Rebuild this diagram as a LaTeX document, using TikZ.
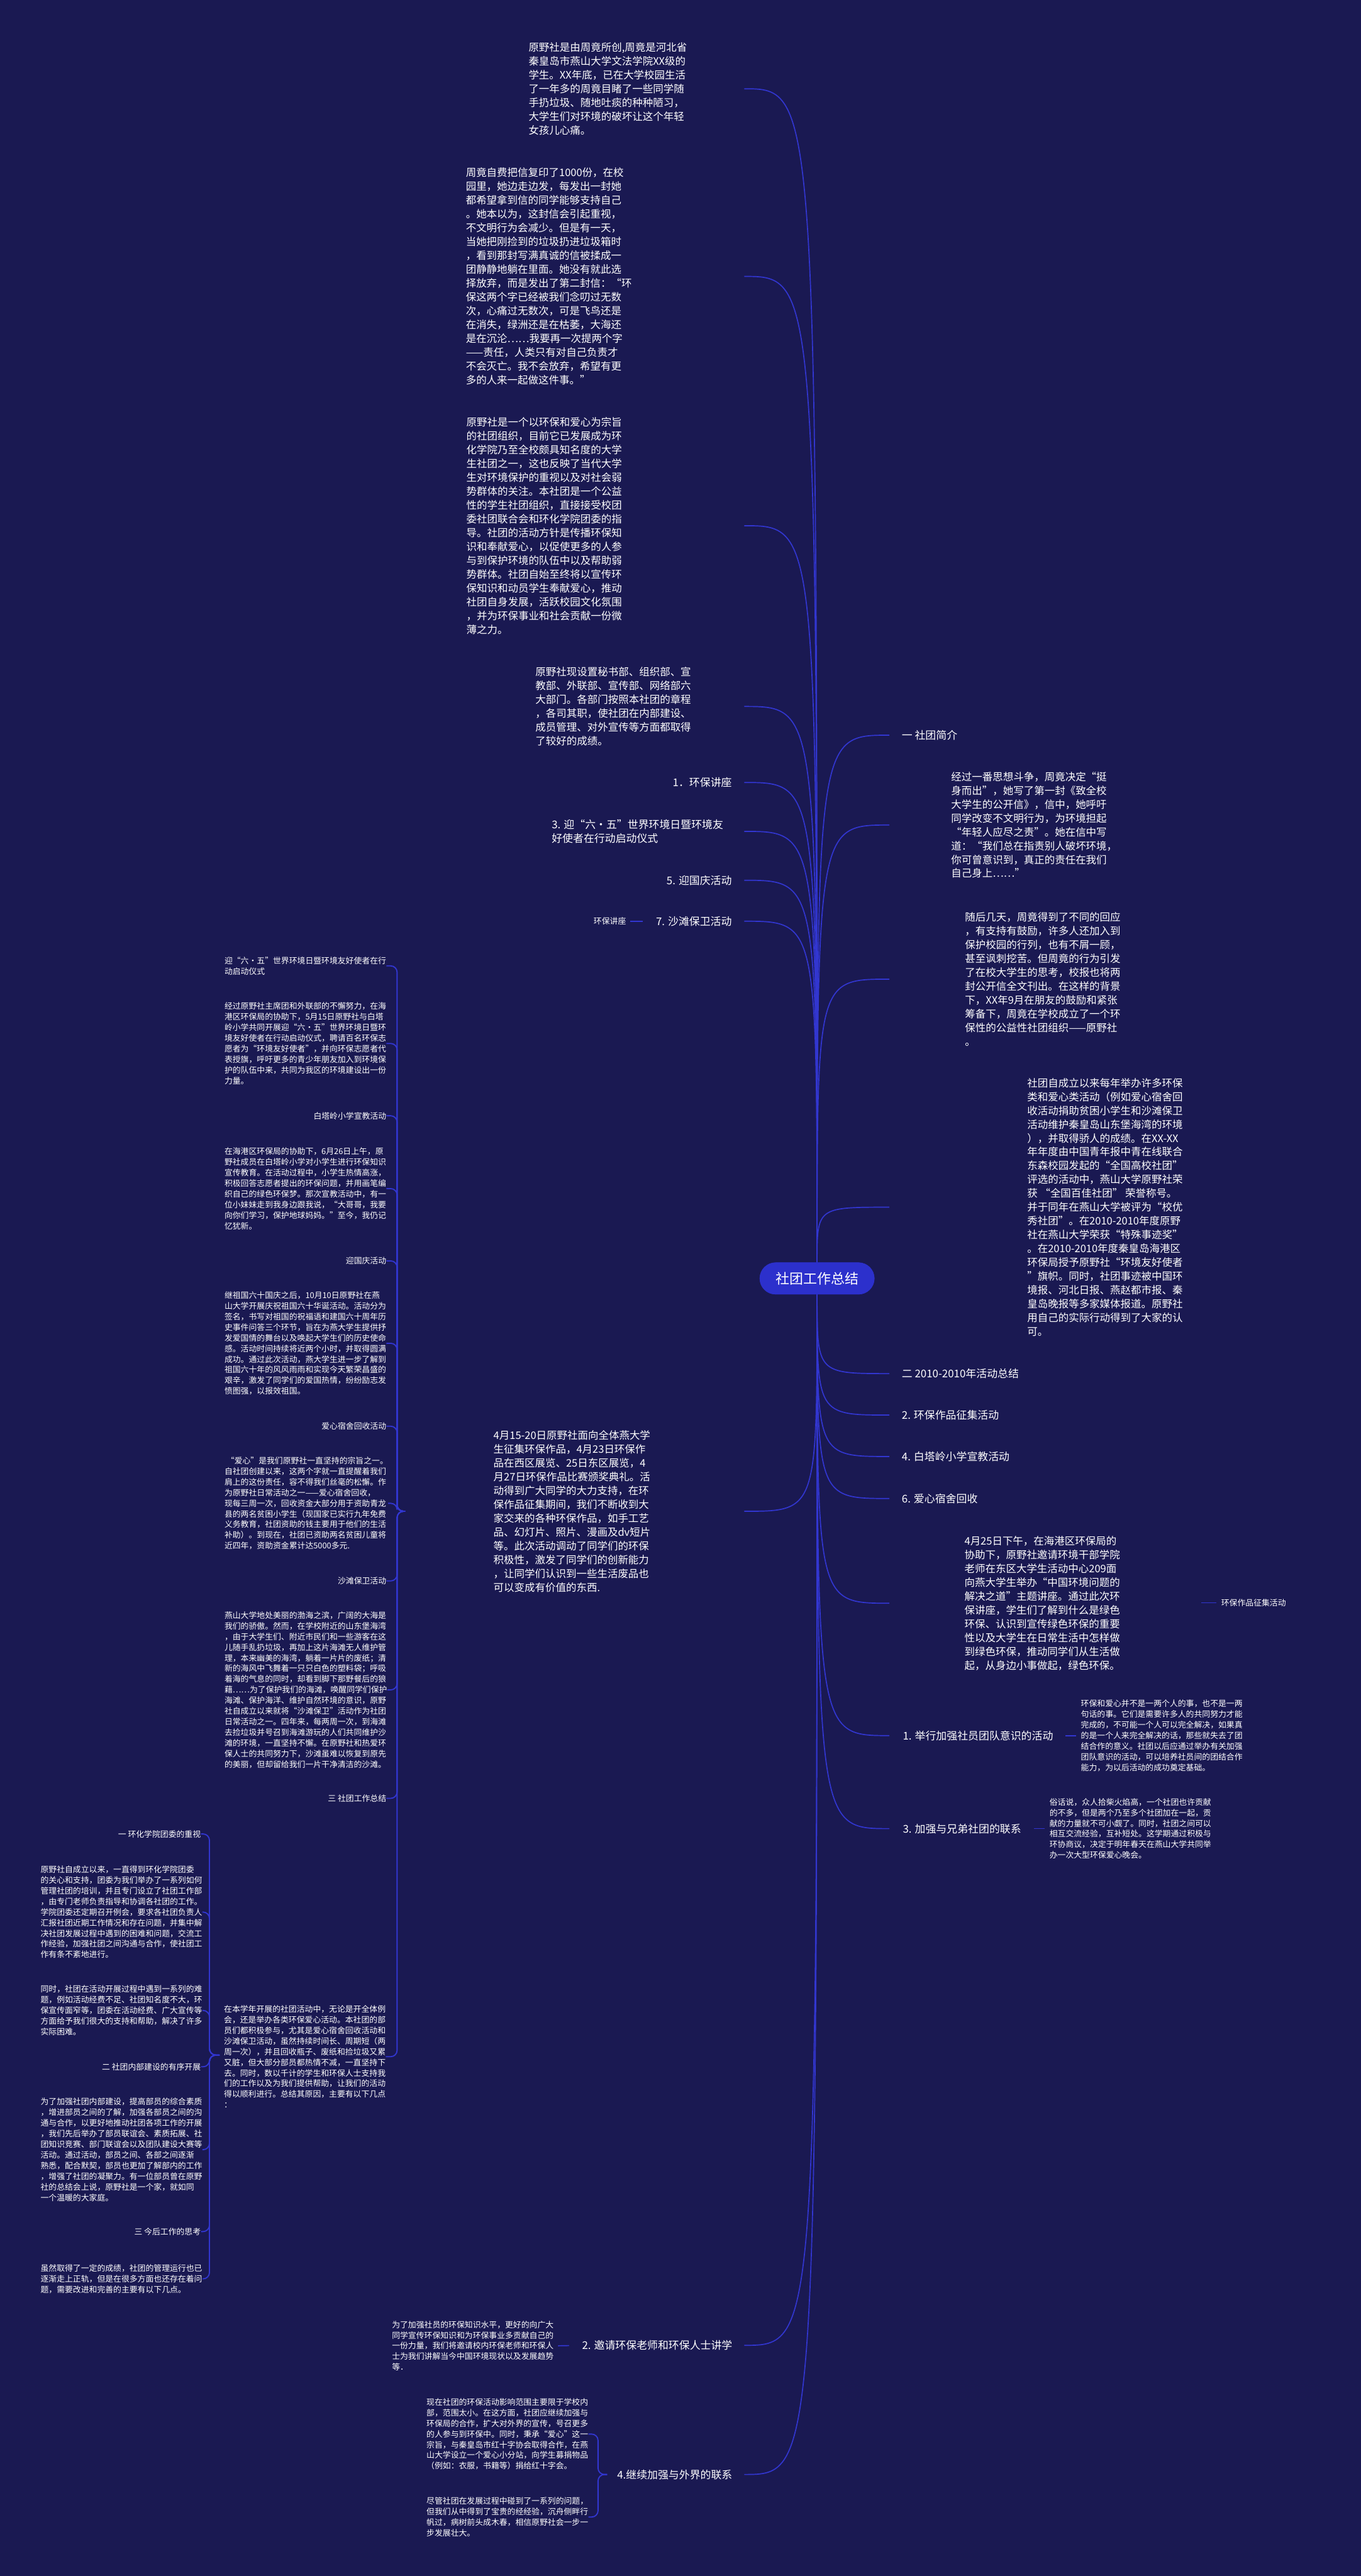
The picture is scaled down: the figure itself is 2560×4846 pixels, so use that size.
\documentclass[tikz,border=0pt]{standalone}
\usepackage{fontspec}
\setmainfont{Noto Sans CJK SC}
\usetikzlibrary{calc}
\definecolor{mapbg}{RGB}{26,25,82}
\definecolor{mapblue}{RGB}{50,54,208}
\definecolor{hubblue}{RGB}{44,48,204}

\begin{document}
\begin{tikzpicture}[x=0.5pt, y=-0.5pt,
  every node/.style={text=white, inner sep=0pt},
  bigtext/.style={font=\fontsize{9.75}{13}\selectfont, align=left},
  smalltext/.style={font=\fontsize{7.6}{10}\selectfont, align=left},
  topic/.style={font=\fontsize{10}{13}\selectfont, align=left},
  pill/.style={fill=hubblue, rounded corners=15pt, minimum width=108pt, minimum height=30pt, font=\fontsize{13}{15}\selectfont},
  branch/.style={draw=mapblue, line width=1pt},
  bracket/.style={draw=mapblue, line width=1.1pt, rounded corners=6pt}]

  % background
  \fill[mapbg] (0,0) rectangle (2560,4846);
  \useasboundingbox (0,0) rectangle (2560,4846);

  % centre topic
  \node[pill] (hub) at (1537,2405) {社团工作总结};

  % left side, top text blocks
  \node[bigtext, anchor=west] (A) at (994,167) {原野社是由周竟所创,周竟是河北省\\
    秦皇岛市燕山大学文法学院XX级的\\
    学生。XX年底，已在大学校园生活\\
    了一年多的周竟目睹了一些同学随\\
    手扔垃圾、随地吐痰的种种陋习，\\
    大学生们对环境的破坏让这个年轻\\
    女孩儿心痛。};
  \node[bigtext, anchor=west] (B) at (876,520) {周竟自费把信复印了1000份，在校\\
    园里，她边走边发，每发出一封她\\
    都希望拿到信的同学能够支持自己\\
    。她本以为，这封信会引起重视，\\
    不文明行为会减少。但是有一天，\\
    当她把刚捡到的垃圾扔进垃圾箱时\\
    ，看到那封写满真诚的信被揉成一\\
    团静静地躺在里面。她没有就此选\\
    择放弃，而是发出了第二封信：“环\\
    保这两个字已经被我们念叨过无数\\
    次，心痛过无数次，可是飞鸟还是\\
    在消失，绿洲还是在枯萎，大海还\\
    是在沉沦……我要再一次提两个字\\
    ——责任，人类只有对自己负责才\\
    不会灭亡。我不会放弃，希望有更\\
    多的人来一起做这件事。”};
  \node[bigtext, anchor=west] (C) at (877,989) {原野社是一个以环保和爱心为宗旨\\
    的社团组织，目前它已发展成为环\\
    化学院乃至全校颇具知名度的大学\\
    生社团之一，这也反映了当代大学\\
    生对环境保护的重视以及对社会弱\\
    势群体的关注。本社团是一个公益\\
    性的学生社团组织，直接接受校团\\
    委社团联合会和环化学院团委的指\\
    导。社团的活动方针是传播环保知\\
    识和奉献爱心，以促使更多的人参\\
    与到保护环境的队伍中以及帮助弱\\
    势群体。社团自始至终将以宣传环\\
    保知识和动员学生奉献爱心，推动\\
    社团自身发展，活跃校园文化氛围\\
    ，并为环保事业和社会贡献一份微\\
    薄之力。};
  \node[bigtext, anchor=west] (D) at (1007,1329) {原野社现设置秘书部、组织部、宣\\
    教部、外联部、宣传部、网络部六\\
    大部门。各部门按照本社团的章程\\
    ，各司其职，使社团在内部建设、\\
    成员管理、对外宣传等方面都取得\\
    了较好的成绩。};

  % left side, numbered topics
  \node[topic, anchor=east] (l1) at (1377,1472) {1．环保讲座};
  \node[topic, anchor=east] (l3) at (1361,1564) {3. 迎“六·五”世界环境日暨环境友\\好使者在行动启动仪式};
  \node[topic, anchor=east] (l5) at (1377,1656) {5. 迎国庆活动};
  \node[topic, anchor=east] (l7) at (1377,1733) {7. 沙滩保卫活动};
  \node[smalltext, anchor=east] (l7s) at (1178,1733) {环保讲座};

  % right side
  \node[topic, anchor=west] (r1) at (1696,1383) {一 社团简介};
  \node[bigtext, anchor=west] (E) at (1789,1552) {经过一番思想斗争，周竟决定“挺\\
    身而出”，她写了第一封《致全校\\
    大学生的公开信》，信中，她呼吁\\
    同学改变不文明行为，为环境担起\\
    “年轻人应尽之责”。她在信中写\\
    道：“我们总在指责别人破坏环境，\\
    你可曾意识到，真正的责任在我们\\
    自己身上……”};
  \node[bigtext, anchor=west] (F) at (1815,1842) {随后几天，周竟得到了不同的回应\\
    ，有支持有鼓励，许多人还加入到\\
    保护校园的行列，也有不屑一顾，\\
    甚至讽刺挖苦。但周竟的行为引发\\
    了在校大学生的思考，校报也将两\\
    封公开信全文刊出。在这样的背景\\
    下，XX年9月在朋友的鼓励和紧张\\
    筹备下，周竟在学校成立了一个环\\
    保性的公益性社团组织——原野社\\
    。};
  \node[bigtext, anchor=west] (G) at (1932,2271) {社团自成立以来每年举办许多环保\\
    类和爱心类活动（例如爱心宿舍回\\
    收活动捐助贫困小学生和沙滩保卫\\
    活动维护秦皇岛山东堡海湾的环境\\
    ），并取得骄人的成绩。在XX-XX\\
    年年度由中国青年报中青在线联合\\
    东森校园发起的“全国高校社团”\\
    评选的活动中，燕山大学原野社荣\\
    获 “全国百佳社团” 荣誉称号。\\
    并于同年在燕山大学被评为“校优\\
    秀社团”。在2010-2010年度原野\\
    社在燕山大学荣获“特殊事迹奖”\\
    。在2010-2010年度秦皇岛海港区\\
    环保局授予原野社“环境友好使者\\
    ”旗帜。同时，社团事迹被中国环\\
    境报、河北日报、燕赵都市报、秦\\
    皇岛晚报等多家媒体报道。原野社\\
    用自己的实际行动得到了大家的认\\
    可。};
  \node[topic, anchor=west] (r2) at (1696,2584) {二 2010-2010年活动总结};
  \node[topic, anchor=west] (r3) at (1696,2662) {2. 环保作品征集活动};
  \node[topic, anchor=west] (r4) at (1696,2740) {4. 白塔岭小学宣教活动};
  \node[topic, anchor=west] (r5) at (1696,2819) {6. 爱心宿舍回收};
  \node[bigtext, anchor=west] (H) at (1814,3016) {4月25日下午，在海港区环保局的\\
    协助下，原野社邀请环境干部学院\\
    老师在东区大学生活动中心209面\\
    向燕大学生举办“中国环境问题的\\
    解决之道”主题讲座。通过此次环\\
    保讲座，学生们了解到什么是绿色\\
    环保、认识到宣传绿色环保的重要\\
    性以及大学生在日常生活中怎样做\\
    到绿色环保，推动同学们从生活做\\
    起，从身边小事做起，绿色环保。};
  \node[smalltext, anchor=west] (Hs) at (2297,3015) {环保作品征集活动};
  \node[topic, anchor=west] (r7) at (1698,3265) {1. 举行加强社员团队意识的活动};
  \node[smalltext, anchor=west] (I) at (2033,3265) {环保和爱心并不是一两个人的事，也不是一两\\
    句话的事。它们是需要许多人的共同努力才能\\
    完成的，不可能一个人可以完全解决，如果真\\
    的是一个人来完全解决的话，那些就失去了团\\
    结合作的意义。社团以后应通过举办有关加强\\
    团队意识的活动，可以培养社员间的团结合作\\
    能力，为以后活动的成功奠定基础。};
  \node[topic, anchor=west] (r8) at (1698,3440) {3. 加强与兄弟社团的联系};
  \node[smalltext, anchor=west] (J) at (1974,3440) {俗话说，众人拾柴火焰高，一个社团也许贡献\\
    的不多，但是两个乃至多个社团加在一起，贡\\
    献的力量就不可小觑了。同时，社团之间可以\\
    相互交流经验，互补短处。这学期通过积极与\\
    环协商议，决定于明年春天在燕山大学共同举\\
    办一次大型环保爱心晚会。};

  % left side, activity block and its column
  \node[bigtext, anchor=west] (K) at (928,2843) {4月15-20日原野社面向全体燕大学\\
    生征集环保作品，4月23日环保作\\
    品在西区展览、25日东区展览，4\\
    月27日环保作品比赛颁奖典礼。活\\
    动得到广大同学的大力支持，在环\\
    保作品征集期间，我们不断收到大\\
    家交来的各种环保作品，如手工艺\\
    品、幻灯片、照片、漫画及dv短片\\
    等。此次活动调动了同学们的环保\\
    积极性，激发了同学们的创新能力\\
    ，让同学们认识到一些生活废品也\\
    可以变成有价值的东西.};
  \node[smalltext, anchor=west] (k1) at (422,1817) {迎“六·五”世界环境日暨环境友好使者在行\\动启动仪式};
  \node[smalltext, anchor=west] (k2) at (422,1963) {经过原野社主席团和外联部的不懈努力，在海\\
    港区环保局的协助下，5月15日原野社与白塔\\
    岭小学共同开展迎“六·五”世界环境日暨环\\
    境友好使者在行动启动仪式，聘请百名环保志\\
    愿者为“环境友好使者”，并向环保志愿者代\\
    表授旗，呼吁更多的青少年朋友加入到环境保\\
    护的队伍中来，共同为我区的环境建设出一份\\
    力量。};
  \node[smalltext, anchor=east] (k3) at (727,2099) {白塔岭小学宣教活动};
  \node[smalltext, anchor=west] (k4) at (422,2236) {在海港区环保局的协助下，6月26日上午，原\\
    野社成员在白塔岭小学对小学生进行环保知识\\
    宣传教育。在活动过程中，小学生热情高涨，\\
    积极回答志愿者提出的环保问题，并用画笔编\\
    织自己的绿色环保梦。那次宣教活动中，有一\\
    位小妹妹走到我身边跟我说，“大哥哥，我要\\
    向你们学习，保护地球妈妈。”至今，我仍记\\
    忆犹新。};
  \node[smalltext, anchor=east] (k5) at (727,2372) {迎国庆活动};
  \node[smalltext, anchor=west] (k6) at (422,2527) {继祖国六十国庆之后，10月10日原野社在燕\\
    山大学开展庆祝祖国六十华诞活动。活动分为\\
    签名，书写对祖国的祝福语和建国六十周年历\\
    史事件问答三个环节，旨在为燕大学生提供抒\\
    发爱国情的舞台以及唤起大学生们的历史使命\\
    感。活动时间持续将近两个小时，并取得圆满\\
    成功。通过此次活动，燕大学生进一步了解到\\
    祖国六十年的风风雨雨和实现今天繁荣昌盛的\\
    艰辛，激发了同学们的爱国热情，纷纷励志发\\
    愤图强，以报效祖国。};
  \node[smalltext, anchor=east] (k7) at (727,2683) {爱心宿舍回收活动};
  \node[smalltext, anchor=west] (k8) at (422,2828) {\ “爱心”是我们原野社一直坚持的宗旨之一。\\
    自社团创建以来，这两个字就一直提醒着我们\\
    肩上的这份责任，容不得我们丝毫的松懈。作\\
    为原野社日常活动之一——爱心宿舍回收，\\
    现每三周一次，回收资金大部分用于资助青龙\\
    县的两名贫困小学生（现国家已实行九年免费\\
    义务教育，社团资助的钱主要用于他们的生活\\
    补助）。到现在，社团已资助两名贫困儿童将\\
    近四年，资助资金累计达5000多元.};
  \node[smalltext, anchor=east] (k9) at (727,2974) {沙滩保卫活动};
  \node[smalltext, anchor=west] (k10) at (422,3179) {燕山大学地处美丽的渤海之滨，广阔的大海是\\
    我们的骄傲。然而，在学校附近的山东堡海湾\\
    ，由于大学生们、附近市民们和一些游客在这\\
    儿随手乱扔垃圾，再加上这片海滩无人维护管\\
    理，本来幽美的海湾，躺着一片片的废纸；清\\
    新的海风中飞舞着一只只白色的塑料袋；呼吸\\
    着海的气息的同时，却看到脚下那野餐后的狼\\
    藉……为了保护我们的海滩，唤醒同学们保护\\
    海滩、保护海洋、维护自然环境的意识，原野\\
    社自成立以来就将“沙滩保卫”活动作为社团\\
    日常活动之一。四年来，每两周一次，到海滩\\
    去捡垃圾并号召到海滩游玩的人们共同维护沙\\
    滩的环境，一直坚持不懈。在原野社和热爱环\\
    保人士的共同努力下，沙滩虽难以恢复到原先\\
    的美丽，但却留给我们一片干净清洁的沙滩。};
  \node[smalltext, anchor=east] (k11) at (727,3383) {三 社团工作总结};
  \node[smalltext, anchor=west] (k12) at (421,3869) {在本学年开展的社团活动中，无论是开全体例\\
    会，还是举办各类环保爱心活动。本社团的部\\
    员们都积极参与，尤其是爱心宿舍回收活动和\\
    沙滩保卫活动，虽然持续时间长、周期短（两\\
    周一次），并且回收瓶子、废纸和捡垃圾又累\\
    又脏，但大部分部员都热情不减，一直坚持下\\
    去。同时，数以千计的学生和环保人士支持我\\
    们的工作以及为我们提供帮助，让我们的活动\\
    得以顺利进行。总结其原因，主要有以下几点\\
    ：};

  % far left column
  \node[smalltext, anchor=east] (ll1) at (378,3450) {一 环化学院团委的重视};
  \node[smalltext, anchor=west] (ll2) at (76,3597) {原野社自成立以来，一直得到环化学院团委\\
    的关心和支持，团委为我们举办了一系列如何\\
    管理社团的培训，并且专门设立了社团工作部\\
    ，由专门老师负责指导和协调各社团的工作。\\
    学院团委还定期召开例会，要求各社团负责人\\
    汇报社团近期工作情况和存在问题，并集中解\\
    决社团发展过程中遇到的困难和问题，交流工\\
    作经验，加强社团之间沟通与合作，使社团工\\
    作有条不紊地进行。};
  \node[smalltext, anchor=west] (ll3) at (76,3782) {同时，社团在活动开展过程中遇到一系列的难\\
    题，例如活动经费不足、社团知名度不大，环\\
    保宣传面窄等，团委在活动经费、广大宣传等\\
    方面给予我们很大的支持和帮助，解决了许多\\
    实际困难。};
  \node[smalltext, anchor=east] (ll4) at (378,3888) {二 社团内部建设的有序开展};
  \node[smalltext, anchor=west] (ll5) at (76,4044) {为了加强社团内部建设，提高部员的综合素质\\
    ，增进部员之间的了解，加强各部员之间的沟\\
    通与合作，以更好地推动社团各项工作的开展\\
    ，我们先后举办了部员联谊会、素质拓展、社\\
    团知识竞赛、部门联谊会以及团队建设大赛等\\
    活动。通过活动，部员之间、各部之间逐渐\\
    熟悉，配合默契，部员也更加了解部内的工作\\
    ，增强了社团的凝聚力。有一位部员曾在原野\\
    社的总结会上说，原野社是一个家，就如同\\
    一个温暖的大家庭。};
  \node[smalltext, anchor=east] (ll6) at (378,4198) {三 今后工作的思考};
  \node[smalltext, anchor=west] (ll7) at (76,4287) {虽然取得了一定的成绩，社团的管理运行也已\\
    逐渐走上正轨，但是在很多方面也还存在着问\\
    题，需要改进和完善的主要有以下几点。};

  % bottom topics
  \node[topic, anchor=east] (b2) at (1378,4412) {2. 邀请环保老师和环保人士讲学};
  \node[smalltext, anchor=west] (M) at (737,4413) {为了加强社员的环保知识水平，更好的向广大\\
    同学宣传环保知识和为环保事业多贡献自己的\\
    一份力量，我们将邀请校内环保老师和环保人\\
    士为我们讲解当今中国环境现状以及发展趋势\\
    等．};
  \node[topic, anchor=east] (b4) at (1378,4655) {4.继续加强与外界的联系};
  \node[smalltext, anchor=west] (N) at (802,4579) {现在社团的环保活动影响范围主要限于学校内\\
    部，范围太小。在这方面，社团应继续加强与\\
    环保局的合作，扩大对外界的宣传，号召更多\\
    的人参与到环保中。同时，秉承“爱心”这一\\
    宗旨，与秦皇岛市红十字协会取得合作，在燕\\
    山大学设立一个爱心小分站，向学生募捐物品\\
    （例如：衣服，书籍等）捐给红十字会。};
  \node[smalltext, anchor=west] (O) at (802,4735) {尽管社团在发展过程中碰到了一系列的问题，\\
    但我们从中得到了宝贵的经经验，沉舟侧畔行\\
    帆过，病树前头成木春，相信原野社会一步一\\
    步发展壮大。};

  % anchor points for connectors
  \coordinate (lx) at (1400,0);
  \coordinate (rx) at (1673,0);
  \coordinate (kt) at (762,2843);
  \coordinate (kb) at (747,0);
  \coordinate (mt) at (413,3866);
  \coordinate (mb) at (394,0);
  \coordinate (nt) at (1142,4655);
  \coordinate (nb) at (1125,0);
  \coordinate (ht) at (2260,3015);

  % centre to its topics
  \foreach \n in {A,B,C,D,l1,l3,l5,l7}
    \draw[branch] (hub.north) .. controls (hub.north |- \n) .. (lx |- \n);
  \foreach \n in {K,b2,b4}
    \draw[branch] (hub.south) .. controls (hub.south |- \n) .. (lx |- \n);
  \foreach \n in {r1,E,F,G}
    \draw[branch] (hub.north) .. controls (hub.north |- \n) .. (rx |- \n);
  \foreach \n in {r2,r3,r4,r5,H,r7,r8}
    \draw[branch] (hub.south) .. controls (hub.south |- \n) .. (rx |- \n);

  % brackets
  \foreach \n in {k1,k2,k3,k4,k5,k6,k7,k8,k9,k10,k11,k12}
    \draw[bracket] (kt) -- (kb |- kt) |- (\n.east);
  \foreach \n in {ll1,ll2,ll3,ll4,ll5,ll6,ll7}
    \draw[bracket] (mt) -- (mb |- mt) |- (\n.east);
  \foreach \n in {N,O}
    \draw[bracket] (nt) -- (nb |- nt) |- (\n.east);

  % short links
  \draw[branch, shorten <=12pt, shorten >=4pt] (l7.west) -- (l7s.east);
  \draw[branch, shorten >=4.5pt] (ht) -- (Hs.west);
  \draw[branch, shorten <=11.5pt, shorten >=4.5pt] (r7.east) -- (I.west);
  \draw[branch, shorten <=12pt, shorten >=4.5pt] (r8.east) -- (J.west);
  \draw[branch, shorten <=12pt, shorten >=4pt] (b2.west) -- (M.east);

  % redraw centre on top
  \node[pill] at (hub) {社团工作总结};
\end{tikzpicture}
\end{document}
